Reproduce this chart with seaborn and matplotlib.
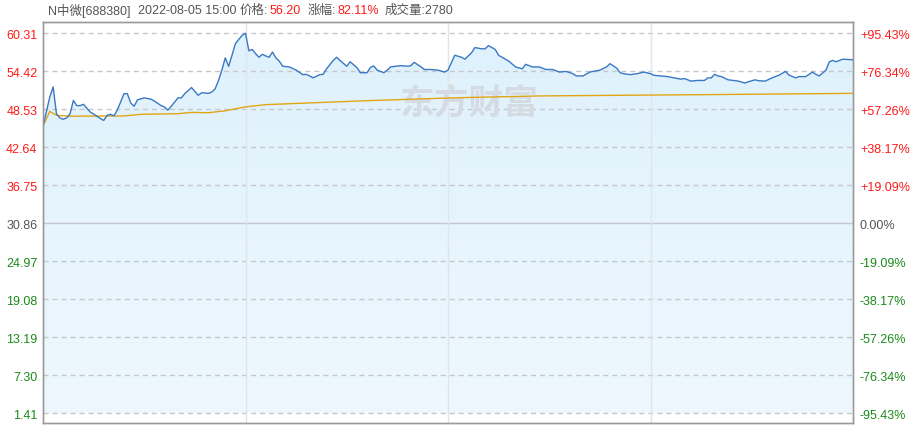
import numpy as np
import pandas as pd
import matplotlib
matplotlib.use('Agg')
import matplotlib.pyplot as plt
import seaborn as sns

# Intraday chart for N中微 [688380], 2022-08-05
prev_close = 30.86
price_levels = [60.31, 54.42, 48.53, 42.64, 36.75, 30.86, 24.97, 19.08, 13.19, 7.30, 1.41]
pct_labels = ['+95.43%', '+76.34%', '+57.26%', '+38.17%', '+19.09%', '0.00%',
              '-19.09%', '-38.17%', '-57.26%', '-76.34%', '-95.43%']

# trading minute (0 = 09:30, 120 = 11:30/13:00, 240 = 15:00) and price
price_min = [0, 2, 3, 4, 5, 6, 7, 8, 9, 10, 11, 12, 14, 15, 17, 18, 19, 20, 21, 22,
             24, 25, 26, 27, 28, 30, 32, 33, 35, 36, 37, 38, 40, 41, 42, 44, 46, 47, 49, 50,
             51, 52, 53, 54, 55, 56, 57, 59, 60, 61, 62, 63, 64, 65, 66, 67, 68, 69, 70, 71,
             73, 75, 77, 78, 79, 80, 82, 83, 84, 86, 87, 88, 90, 91, 93, 94, 96, 97, 98, 99,
             101, 102, 103, 106, 108, 109, 110, 112, 113, 115, 117, 119, 120, 122, 124, 125, 127, 128, 130, 131,
             132, 134, 135, 137, 138, 140, 142, 143, 145, 147, 149, 151, 153, 155, 157, 158, 160, 162, 165, 167,
             168, 170, 171, 172, 174, 176, 178, 180, 181, 183, 185, 187, 189, 190, 192, 194, 196, 197, 198, 199,
             200, 201, 203, 206, 208, 209, 211, 212, 214, 216, 218, 220, 221, 223, 224, 226, 228, 229, 230, 232,
             233, 234, 235, 237, 240]
price_val = [45.9, 50.4, 52.0, 47.8, 47.2, 46.98, 47.2, 47.8, 49.9, 49.1, 49.1, 49.3, 48.1, 47.8, 47.1, 46.8, 47.6, 47.75, 47.5, 48.4,
             50.95, 50.95, 49.5, 49.0, 50.0, 50.3, 50.1, 49.8, 49.1, 48.9, 48.4, 49.0, 50.3, 50.3, 50.95, 51.9, 50.7, 51.1, 51.0, 51.2,
             51.7, 53.0, 54.6, 56.5, 55.2, 56.9, 58.7, 60.0, 60.31, 57.6, 57.8, 57.15, 56.6, 57.05, 56.8, 56.6, 57.4, 56.5, 56.0, 55.2,
             55.1, 54.6, 53.9, 53.95, 53.7, 53.4, 53.9, 53.95, 54.8, 56.1, 56.6, 56.1, 55.2, 55.9, 55.0, 54.2, 54.2, 55.0, 55.25, 54.6,
             54.2, 54.6, 55.1, 55.3, 55.2, 55.3, 55.8, 55.1, 54.7, 54.7, 54.6, 54.3, 54.6, 56.9, 56.6, 56.3, 57.3, 58.1, 57.9, 57.9,
             58.4, 57.8, 56.9, 56.3, 56.0, 55.1, 54.8, 55.5, 55.1, 55.1, 54.7, 54.7, 54.3, 54.4, 54.05, 53.7, 53.7, 54.3, 54.6, 55.1,
             55.6, 54.9, 54.2, 54.05, 53.9, 54.05, 54.3, 54.05, 53.8, 53.7, 53.6, 53.4, 53.2, 53.3, 52.9, 53.0, 53.0, 53.4, 53.4, 53.95,
             53.7, 53.6, 53.1, 52.9, 52.6, 52.8, 53.1, 52.96, 52.9, 53.4, 53.8, 54.4, 53.85, 53.4, 53.6, 53.6, 54.3, 53.95, 53.7, 54.6,
             55.9, 56.1, 55.9, 56.3, 56.2]

avg_min = [0, 2, 4, 8, 19, 24, 29, 40, 44, 49, 54, 60, 66, 78, 88, 98, 121, 147, 171, 196, 240]
avg_val = [45.9, 48.2, 47.6, 47.45, 47.5, 47.5, 47.75, 47.85, 48.05, 48.0, 48.3, 48.9, 49.25, 49.5, 49.7,
           49.9, 50.3, 50.6, 50.7, 50.8, 51.0]

price_df = pd.DataFrame({'minute': price_min, 'price': price_val})
avg_df = pd.DataFrame({'minute': avg_min, 'avg': avg_val})

sns.set_style('white')
plt.rcParams['font.family'] = ['Liberation Sans', 'Noto Sans CJK SC', 'DejaVu Sans']

RED = '#ff1a1a'
GREEN = '#1a8a1a'
GREY = '#555555'

fig = plt.figure(figsize=(9.21, 4.31), dpi=100)
ax = fig.add_axes([43 / 921, 7 / 431, 810 / 921, 401 / 431])
ax.set_xlim(0, 240)
ax.set_ylim(-0.09, 62.06)

# gradient fill under the price line
poly = ax.fill_between(price_df['minute'], price_df['price'], price_levels[-1],
                       color='none', linewidth=0)
grad = np.linspace(0, 1, 256).reshape(-1, 1)
cmap = matplotlib.colors.LinearSegmentedColormap.from_list('fill', ['#def1fc', '#eef8fe'])
img = ax.imshow(grad, cmap=cmap, aspect='auto', extent=[0, 240, price_levels[-1], 62.06],
                origin='upper', zorder=0)
img.set_clip_path(poly.get_paths()[0], transform=ax.transData)

# grid
for lv in price_levels:
    if lv == prev_close:
        ax.axhline(lv, color='#c4c8cc', lw=1, zorder=1)
    else:
        ax.axhline(lv, color='#c4c8cc', lw=1, ls=(0, (3.6, 2.9)), zorder=1)
for m in [60, 120, 180]:
    ax.axvline(m, color='#dfe5ea', lw=1, zorder=1)

# watermark
ax.text(126.5, 49.7, '东方财富', fontsize=25, fontweight='bold', color='#d4dbe2',
        ha='center', va='center', family=['Noto Sans CJK SC'], zorder=2)

sns.lineplot(data=price_df, x='minute', y='price', ax=ax, color='#3a78c3', linewidth=1, zorder=4)
sns.lineplot(data=avg_df, x='minute', y='avg', ax=ax, color='#e2a514', linewidth=1, zorder=3)
ax.set_xlabel('')
ax.set_ylabel('')
ax.set_xticks([])

ax.set_yticks(price_levels)
ax.set_yticklabels(['%.2f' % v for v in price_levels], fontsize=9)
ax.tick_params(axis='y', length=0, pad=4)
for lbl, lv in zip(ax.get_yticklabels(), price_levels):
    lbl.set_color(RED if lv > prev_close else (GREEN if lv < prev_close else GREY))

ax2 = ax.twinx()
ax2.set_ylim(ax.get_ylim())
ax2.set_yticks(price_levels)
ax2.set_yticklabels(pct_labels, fontsize=9)
ax2.tick_params(axis='y', length=0, pad=5)
for lbl, lv in zip(ax2.get_yticklabels(), price_levels):
    lbl.set_color(RED if lv > prev_close else (GREEN if lv < prev_close else GREY))

for a in (ax, ax2):
    for s in a.spines.values():
        s.set_color('#9a9a9a')
        s.set_linewidth(1)

# header line
header = [(48, 'N中微[688380]', GREY), (138, '2022-08-05 15:00', GREY), (240, '价格:', GREY),
          (270, '56.20', RED), (308, '涨幅:', GREY), (337, '82.11%', RED), (385, '成交量:2780', GREY)]
for x, s, c in header:
    fig.text(x / 921, 1 - 11 / 431, s, fontsize=9, color=c, ha='left', va='center')

fig.savefig('out.png', dpi=100)
